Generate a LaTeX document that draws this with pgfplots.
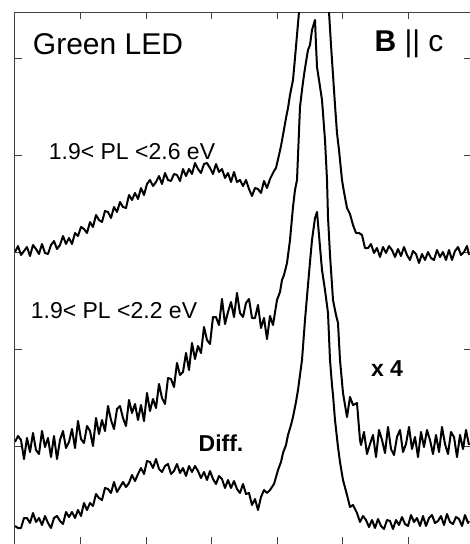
\documentclass[border=0pt]{standalone}
\usepackage{fontspec}
\setmainfont{Liberation Sans}
\usepackage{pgfplots}
\pgfplotsset{compat=1.18}
\begin{document}
\begin{tikzpicture}
\begin{axis}[
    scale only axis,
    width=456pt, height=532pt,
    xmin=15, xmax=471, ymin=12, ymax=544, y dir=reverse,
    xtick={80.5,146,211.5,277,342.5,408},
    ytick={58,155,252,349,446},
    xticklabels={}, yticklabels={},
    tick align=inside, major tick length=7pt,
    axis line style={black!75, line width=1pt},
    tick style={black!75, line width=1pt},
    clip=true,
    spectrum/.style={black, line width=2pt, line join=round, mark=none},
  ]
  % 1.9 < PL < 2.6 eV
  \addplot[spectrum] coordinates {
    (15,252) (18,246) (21,255) (24,251) (27,247) (30,256) (33,245) (36,249) (39,254) (42,244)
    (45,253) (48,254) (51,245) (54,241) (57,249) (60,245) (63,236) (66,244) (69,238) (72,244)
    (75,233) (78,236) (81,227) (84,229) (87,233) (90,222) (93,227) (96,215) (99,220) (102,222)
    (105,211) (108,212) (111,218) (114,207) (117,212) (120,202) (123,207) (126,208) (129,195) (132,200)
    (135,193) (138,199) (141,188) (144,195) (147,184) (150,180) (153,186) (156,182) (159,176) (162,184)
    (165,173) (168,180) (171,181) (174,174) (177,175) (180,181) (183,169) (186,176) (189,169) (192,174)
    (195,163) (198,169) (201,173) (204,164) (207,163) (210,168) (213,174) (216,164) (219,172) (222,169)
    (225,178) (228,173) (231,182) (234,172) (237,182) (240,180) (243,186) (246,180) (249,189) (252,196)
    (255,188) (258,189) (261,193) (264,181) (267,188) (270,179)
    (274,171) (276,168) (279,155) (281,146) (283,135) (286,118) (288,108)
    (290,95) (293,80) (295,58) (297,35) (299,12) (302,-40) (305,-80) (314,-150)
    (322,-80) (326,-30) (329,12) (331,45) (333,75) (335,105) (337,133) (339,150)
    (342,180) (344,192) (347,208) (350,214)
    (353,225) (356,233) (359,233) (362,235) (365,248) (368,248) (371,244) (374,253) (377,248) (380,257)
    (383,247) (386,253) (389,246) (392,250) (395,257) (398,249) (401,256) (404,247) (407,255) (410,260)
    (413,251) (416,254) (419,263) (422,254) (425,260) (428,252) (431,258) (434,260) (437,250) (440,257)
    (443,252) (446,260) (449,250) (452,260) (455,251) (458,247) (461,255) (464,252) (467,246) (469,255)
  };
  % 1.9 < PL < 2.2 eV, x 4
  \addplot[spectrum] coordinates {
    (15,442) (18,436) (21,440) (24,459) (27,438) (30,452) (33,433) (36,450) (39,454) (42,431)
    (45,447) (48,438) (51,457) (54,436) (57,459) (60,440) (63,431) (66,448) (69,442) (72,429)
    (75,448) (78,421) (81,439) (84,443) (87,426) (90,431) (93,446) (96,418) (99,434) (102,420)
    (105,431) (108,406) (111,420) (114,429) (117,409) (120,406) (123,418) (126,426) (129,400) (132,413)
    (135,404) (138,420) (141,405) (144,421) (147,393) (150,411) (153,399) (156,408) (159,384) (162,398)
    (165,404) (168,378) (171,379) (174,387) (177,363) (180,375) (183,372) (186,353) (189,370) (192,343)
    (195,359) (198,346) (201,353) (204,327) (207,340) (210,344) (213,317) (216,317) (219,325) (222,299)
    (225,324) (228,312) (231,302) (234,317) (237,293) (240,313) (243,317) (246,303) (249,299) (252,318)
    (255,318) (258,305) (261,328) (264,318) (267,339) (270,316) (273,325)
    (277,300) (280,292) (282,280) (284,275) (287,263) (290,240)
    (293,207) (295,190) (297,180) (300,107) (302,90) (304,75) (306,62) (308,50)
    (310,45) (312,30) (315,20) (316,45) (317,67) (319,80) (322,100) (325,140)
    (327,180) (328,217) (330,255) (333,300) (336,315) (338,323) (340,360) (343,393)
    (345,405) (347,417) (350,397) (353,405) (357,403) (360,440)
    (361,445) (364,432) (367,454) (370,444) (373,435) (376,457) (379,430) (382,440) (385,453) (388,427)
    (391,449) (394,455) (397,437) (400,430) (403,452) (406,444) (409,427) (412,449) (415,437) (418,457)
    (421,432) (424,447) (427,430) (430,440) (433,454) (436,435) (439,452) (442,427) (445,444) (448,454)
    (451,432) (454,437) (457,457) (460,435) (463,449) (466,430) (469,445)
  };
  % Diff.
  \addplot[spectrum] coordinates {
    (15,526) (18,528) (21,528) (24,518) (27,518) (30,523) (33,513) (36,522) (39,518) (42,525)
    (45,516) (48,523) (51,528) (54,518) (57,516) (60,521) (63,524) (66,512) (69,517) (72,512)
    (75,518) (78,510) (81,516) (84,503) (87,510) (90,503) (93,506) (96,494) (99,498) (102,500)
    (105,488) (108,489) (111,493) (114,482) (117,492) (120,487) (123,482) (126,487) (129,483) (132,475)
    (135,481) (138,474) (141,468) (144,474) (147,461) (150,462) (153,468) (156,459) (159,469) (162,472)
    (165,466) (168,464) (171,474) (174,471) (177,464) (180,473) (183,468) (186,476) (189,466) (192,472)
    (195,466) (198,471) (201,478) (204,472) (207,480) (210,471) (213,479) (216,484) (219,476) (222,479)
    (225,488) (228,480) (231,488) (234,481) (237,489) (240,493) (243,484) (246,494) (249,493) (252,505)
    (255,499) (258,510) (261,497) (264,490) (267,493) (270,490)
    (274,484) (278,470) (281,462) (283,453) (286,445) (288,435) (291,425)
    (293,417) (296,402) (298,390) (300,375) (302,360) (305,320) (308,285) (310,262)
    (312,240) (315,218) (317,212) (319,235) (322,270) (325,290) (328,313) (330,360)
    (332,385) (333,395) (335,420) (338,447) (340,462) (343,480) (347,495) (350,507)
    (353,505) (357,513) (360,522) (363,516) (366,520) (369,527) (372,520) (375,528) (378,519) (381,526)
    (384,529) (387,520) (390,521) (393,529) (396,520) (399,525) (402,517) (405,524) (408,526) (411,515)
    (414,522) (417,518) (420,526) (423,516) (426,526) (429,518) (432,515) (435,523) (438,521) (441,516)
    (444,525) (447,514) (450,522) (453,524) (456,517) (459,519) (462,526) (465,515) (468,523) (469,521)
  };
  \node[font=\fontsize{30}{30}\selectfont] at (axis cs:108,44) {Green LED};
  \node[font=\fontsize{30}{30}\selectfont] at (axis cs:409,44) {\textbf{B} || c};
  \node[font=\fontsize{23}{23}\selectfont] at (axis cs:132,152) {1.9< PL <2.6 eV};
  \node[font=\fontsize{23}{23}\selectfont] at (axis cs:114,311) {1.9< PL <2.2 eV};
  \node[font=\fontsize{23}{23}\selectfont\bfseries] at (axis cs:387,369) {x 4};
  \node[font=\fontsize{23}{23}\selectfont\bfseries] at (axis cs:221,443) {Diff.};
\end{axis}
\pgfresetboundingbox
\useasboundingbox (-15pt,0pt) rectangle (454pt,544pt);
\end{tikzpicture}
\end{document}
